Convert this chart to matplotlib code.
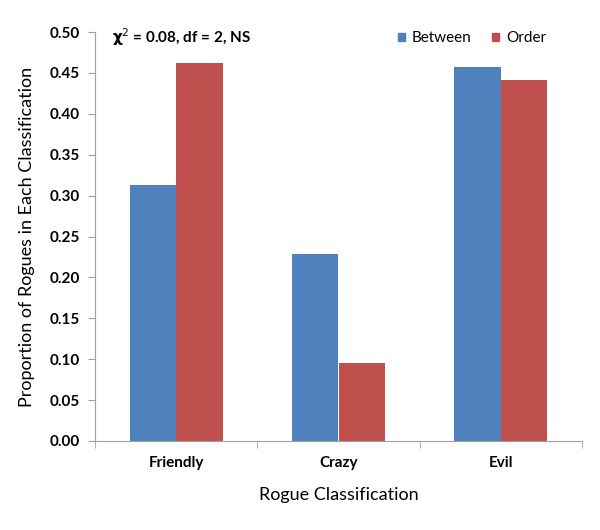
import matplotlib
matplotlib.use("Agg")
import matplotlib.pyplot as plt
import numpy as np
from matplotlib.patches import Patch

categories = ["Friendly", "Crazy", "Evil"]
between = [0.313, 0.228, 0.457]
order = [0.462, 0.095, 0.441]
series_names = ["Between", "Order"]
yticks = [0.00, 0.05, 0.10, 0.15, 0.20, 0.25, 0.30, 0.35, 0.40, 0.45, 0.50]

plt.rcParams['font.family'] = ['Lato', 'DejaVu Sans']

fig = plt.figure(figsize=(6, 5.3), dpi=100)
ax = fig.add_axes([95/600, 1-441/530, 487/600, 409/530])

x = np.arange(len(categories))
w = 0.286
ax.bar(x - w/2, between, w, color="#4F81BD", label=series_names[0])
ax.bar(x + w/2, order, w, color="#C0504D", label=series_names[1])

ax.set_xlim(-0.5, 2.5)
ax.set_ylim(0, 0.5)
ax.set_yticks(yticks)
ax.set_yticklabels([f"{v:.2f}" for v in yticks], fontsize=11, fontweight='bold')
ax.set_xticks(x)
ax.set_xticklabels(categories, fontsize=11, fontweight='bold')
ax.tick_params(axis='x', length=0, pad=11)
ax.set_xticks([-0.5, 0.5, 1.5, 2.5], minor=True)
ax.tick_params(axis='x', which='minor', length=5, color='#A0A0A0', direction='out')
ax.tick_params(axis='y', length=5, color='#A0A0A0', direction='out', pad=6)

for s in ['top', 'right']:
    ax.spines[s].set_visible(False)
for s in ['left', 'bottom']:
    ax.spines[s].set_color('#A0A0A0')

ax.set_xlabel("Rogue Classification", fontsize=13, labelpad=12)
ax.set_ylabel("Proportion of Rogues in Each Classification", fontsize=13, labelpad=10)

ax.text(0.034, 0.987, r"$\mathbf{\chi}^{2}$ = 0.08, df = 2, NS", transform=ax.transAxes,
        fontsize=11, fontweight='bold', va='center', ha='left')

handles = [Patch(color="#4F81BD"), Patch(color="#C0504D")]
ax.legend(handles, series_names, loc='upper right', bbox_to_anchor=(0.955, 1.035), ncol=2,
          frameon=False, fontsize=11, handlelength=0.5, handleheight=0.5,
          handletextpad=0.45, columnspacing=1.3)

fig.savefig("out.png", dpi=100)
